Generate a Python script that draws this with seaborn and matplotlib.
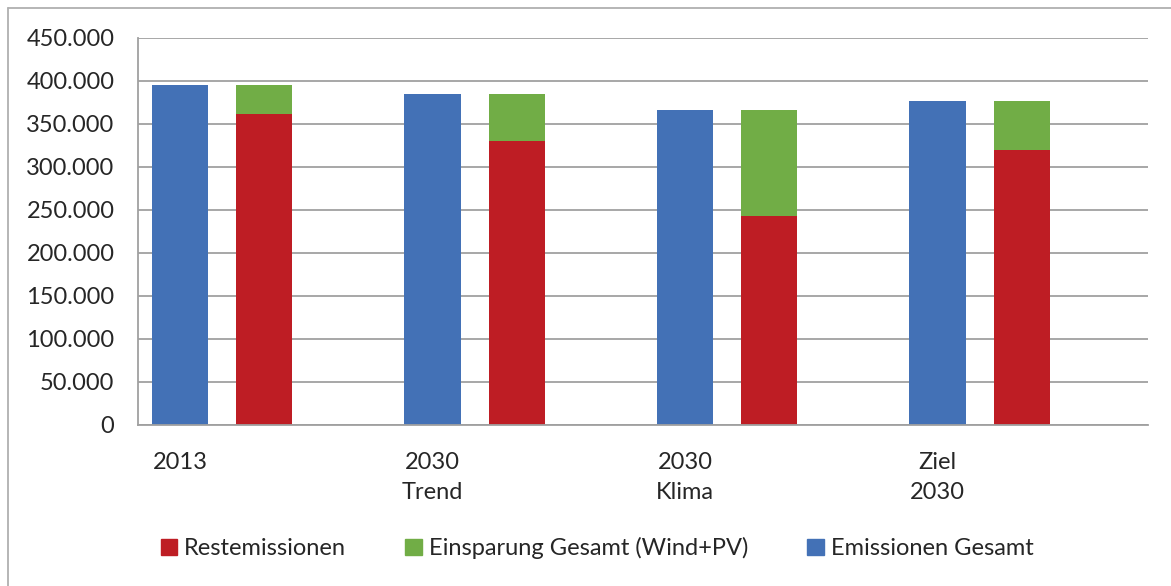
import pandas as pd
import matplotlib.pyplot as plt
import seaborn as sns
from matplotlib.ticker import FuncFormatter
from matplotlib.patches import Patch
from matplotlib.lines import Line2D

FONT_SIZE = 17

scenarios = ["2013", "2030\nTrend", "2030\nKlima", "Ziel\n2030"]
emissionen_gesamt = [395000, 385000, 366000, 376000]
restemissionen = [361000, 330000, 243000, 319000]
einsparung = [34000, 55000, 123000, 57000]

BLUE = "#4371B6"
RED = "#BE1D24"
GREEN = "#71AD46"
GRID = "#A0A0A0"
TEXT = "#262626"

# 12 slots: blue bar, stacked bar, gap for each scenario
slots = [str(i) for i in range(12)]
blue_df = pd.DataFrame({"slot": [slots[3 * i] for i in range(4)], "value": emissionen_gesamt})
stack_df = pd.DataFrame({
    "slot": [slots[3 * i + 1] for i in range(4)],
    "rest": restemissionen,
    "total": [r + e for r, e in zip(restemissionen, einsparung)],
})

sns.set_theme(style="white")
plt.rcParams["font.family"] = ["Lato", "DejaVu Sans"]

fig = plt.figure(figsize=(11.71, 5.86), dpi=100)
ax = fig.add_axes([138 / 1171, 1 - 424.7 / 586, (1148 - 138) / 1171, (424.7 - 37.7) / 586])

sns.barplot(data=blue_df, x="slot", y="value", order=slots, color=BLUE, width=0.67,
            saturation=1, ax=ax, edgecolor="none")
sns.barplot(data=stack_df, x="slot", y="total", order=slots, color=GREEN, width=0.67,
            saturation=1, ax=ax, edgecolor="none")
sns.barplot(data=stack_df, x="slot", y="rest", order=slots, color=RED, width=0.67,
            saturation=1, ax=ax, edgecolor="none")

ax.set_xlim(-0.5, 11.5)
ax.set_ylim(0, 450000)
ax.set_yticks(range(0, 450001, 50000))
ax.yaxis.set_major_formatter(FuncFormatter(lambda v, p: f"{int(v):,}".replace(",", ".")))
ax.yaxis.grid(True, color=GRID, linewidth=1.3)
ax.set_axisbelow(True)

ax.set_xticks([0, 3, 6, 9])
ax.set_xticklabels(scenarios, linespacing=1.5)
ax.set_xticks([i - 0.5 for i in range(13)], minor=True)
ax.tick_params(axis="x", which="major", length=0, pad=20, labelsize=FONT_SIZE, labelcolor=TEXT)
ax.tick_params(axis="x", which="minor", length=7, width=1.3, color=GRID, direction="out")
ax.tick_params(axis="y", length=7, width=1.3, color=GRID, direction="out", pad=10,
               labelsize=FONT_SIZE, labelcolor=TEXT)
ax.set_xlabel("")
ax.set_ylabel("")

for s in ["top", "right"]:
    ax.spines[s].set_visible(False)
for s in ["left", "bottom"]:
    ax.spines[s].set_color(GRID)
    ax.spines[s].set_linewidth(1.3)

handles = [Patch(color=RED, label="Restemissionen"),
           Patch(color=GREEN, label="Einsparung Gesamt (Wind+PV)"),
           Patch(color=BLUE, label="Emissionen Gesamt")]
fig.legend(handles=handles, loc="center", bbox_to_anchor=(0.51, 1 - 548 / 586), ncol=3,
           frameon=False, fontsize=FONT_SIZE, handlelength=0.7, handleheight=0.7,
           handletextpad=0.3, columnspacing=2.5, labelcolor=TEXT)

# outer chart frame
fig.add_artist(Line2D([8 / 1171, 1], [1 - 8 / 586, 1 - 8 / 586], color="#B0B0B0", linewidth=1.3))
fig.add_artist(Line2D([8 / 1171, 8 / 1171], [0, 1 - 8 / 586], color="#B0B0B0", linewidth=1.3))

fig.savefig("out.png", dpi=100)
